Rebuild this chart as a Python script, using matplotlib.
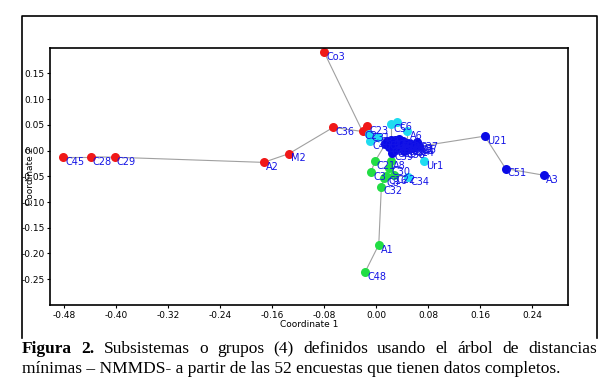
import numpy as np
import matplotlib
matplotlib.use('Agg')
import matplotlib.pyplot as plt
from matplotlib.lines import Line2D

# point labels, coordinates and group (r=red, c=cyan, g=green, b=blue)
labels = ['Co3', 'C36', 'M2', 'A2', 'C29', 'C28', 'C45', 'C23', 'C2',
          'C6', 'C5', 'A6', 'C31', 'C40', 'C33', 'Ur1', 'C34',
          'A1', 'C48', 'C32', 'C8', 'C3', 'C21', 'A8', 'C30', 'C22', 'C16',
          'U21', 'C51', 'A3',
          'C1', 'C7', 'C9', 'C10', 'C11', 'C12', 'C13', 'C15', 'C4', 'C17', 'C18',
          'C19', 'C20', 'C24', 'C14', 'C25', 'C26', 'C27', 'C35', 'C37', 'C38', 'C39']
coord1 = [-0.080, -0.066, -0.134, -0.173, -0.402, -0.439, -0.481, -0.014, -0.021,
          0.032, 0.023, 0.048, -0.011, -0.009, 0.003, 0.074, 0.049,
          0.004, -0.017, 0.008, 0.012, -0.008, -0.002, 0.023, 0.020, 0.028, 0.015,
          0.167, 0.199, 0.258,
          0.017, 0.023, 0.029, 0.035, 0.042, 0.048, 0.054, 0.060, 0.066, 0.026, 0.032,
          0.038, 0.045, 0.051, 0.057, 0.020, 0.029, 0.014, 0.035, 0.063, 0.043, 0.025]
coord2 = [0.191, 0.045, -0.006, -0.023, -0.013, -0.012, -0.012, 0.047, 0.037,
          0.055, 0.051, 0.037, 0.033, 0.018, 0.027, -0.021, -0.052,
          -0.183, -0.236, -0.070, -0.053, -0.042, -0.021, -0.020, -0.033, -0.047, -0.050,
          0.028, -0.035, -0.048,
          0.018, 0.021, 0.020, 0.016, 0.018, 0.014, 0.012, 0.010, 0.008, 0.010, 0.008,
          0.010, 0.006, 0.006, 0.004, 0.006, 0.002, 0.012, 0.023, 0.016, 0.000, -0.004]
groups = ['r'] * 9 + ['c'] * 8 + ['g'] * 10 + ['b'] * 25

# minimum spanning tree edges
edges = [('C45', 'C28'), ('C28', 'C29'), ('C29', 'A2'), ('A2', 'M2'), ('M2', 'C36'),
         ('C36', 'C2'), ('Co3', 'C2'), ('C2', 'C23'), ('C2', 'C31'), ('C31', 'C40'),
         ('C40', 'C33'), ('C33', 'C1'), ('C5', 'C6'), ('C5', 'C7'), ('A6', 'C12'),
         ('C4', 'U21'), ('U21', 'C51'), ('C51', 'A3'), ('Ur1', 'C14'), ('C34', 'C22'),
         ('C22', 'C30'), ('C30', 'A8'), ('A8', 'C39'), ('C21', 'C27'), ('C3', 'C21'),
         ('C16', 'C30'), ('C8', 'C16'), ('C32', 'C8'), ('A1', 'C32'), ('A1', 'C48'),
         ('C27', 'C1'), ('C1', 'C7'), ('C7', 'C9'), ('C9', 'C35'), ('C35', 'C10'),
         ('C10', 'C11'), ('C11', 'C12'), ('C12', 'C13'), ('C13', 'C15'), ('C15', 'C4'),
         ('C37', 'C15'), ('C17', 'C18'), ('C18', 'C19'), ('C19', 'C20'), ('C20', 'C24'),
         ('C24', 'C14'), ('C25', 'C17'), ('C26', 'C18'), ('C38', 'C20'), ('C39', 'C26'),
         ('C17', 'C9')]

colors = {'r': '#f01818', 'c': '#1fdcf0', 'g': '#22dd44', 'b': '#0a0ae6'}

xticks = [-0.48, -0.40, -0.32, -0.24, -0.16, -0.08, 0.00, 0.08, 0.16, 0.24]
yticks = [0.15, 0.10, 0.05, 0.00, -0.05, -0.10, -0.15, -0.20, -0.25]

fig = plt.figure(figsize=(6.16, 3.91), dpi=100)

# outer frame (left, top, right)
fig.add_artist(Line2D([0.036, 0.036, 0.969, 0.969], [0.135, 0.959, 0.959, 0.135],
                      transform=fig.transFigure, color='black', lw=1.2))

ax = fig.add_axes([0.0812, 0.22, 0.8409, 0.657])
idx = {l: i for i, l in enumerate(labels)}
for a, b in edges:
    ax.plot([coord1[idx[a]], coord1[idx[b]]], [coord2[idx[a]], coord2[idx[b]]],
            color='#a0a0a0', lw=0.8, zorder=1)

for i, l in enumerate(labels):
    ax.plot(coord1[i], coord2[i], 'o', color=colors[groups[i]], ms=6.5, mec='none', zorder=2)
for i, l in enumerate(labels):
    ax.annotate(l, (coord1[i], coord2[i]), xytext=(1.5, -3.5), textcoords='offset points',
                ha='left', va='center', fontsize=7, color='#1414e6', zorder=3)

ax.set_xlim(-0.5015, 0.295)
ax.set_ylim(-0.30, 0.199)
ax.set_xticks(xticks)
ax.set_xticklabels(['%.2f' % t for t in xticks])
ax.set_yticks(yticks)
ax.set_yticklabels(['%.2f' % t for t in yticks])
ax.tick_params(labelsize=6.5, length=2.5, width=0.8, pad=1.5)
for s in ax.spines.values():
    s.set_linewidth(1.2)
ax.set_xlabel('Coordinate 1', fontsize=6.5, labelpad=0)
fig.text(0.049, 0.55, 'Coordinate 2', rotation=90, fontsize=6.5, ha='center', va='center')

# caption, first line justified
fig.canvas.draw()
renderer = fig.canvas.get_renderer()
cap_font = dict(family='Liberation Serif', fontsize=12.5)
line1 = ['Figura', '2.', 'Subsistemas', 'o', 'grupos', '(4)', 'definidos', 'usando',
         'el', 'árbol', 'de', 'distancias']
x0, x1 = 22 / 616, 597 / 616
texts = []
for k, w in enumerate(line1):
    t = fig.text(0, 1 - 349 / 391, w, va='center', ha='left',
                 fontweight='bold' if k < 2 else 'normal', **cap_font)
    texts.append(t)
widths = [t.get_window_extent(renderer).width / 616 for t in texts]
gap = (x1 - x0 - sum(widths)) / (len(texts) - 1)
x = x0
for t, w in zip(texts, widths):
    t.set_x(x)
    x += w + gap
fig.text(x0, 1 - 369 / 391,
         'mínimas – NMMDS- a partir de las 52 encuestas que tienen datos completos.',
         va='center', ha='left', **cap_font)

fig.savefig('out.png', dpi=100)
